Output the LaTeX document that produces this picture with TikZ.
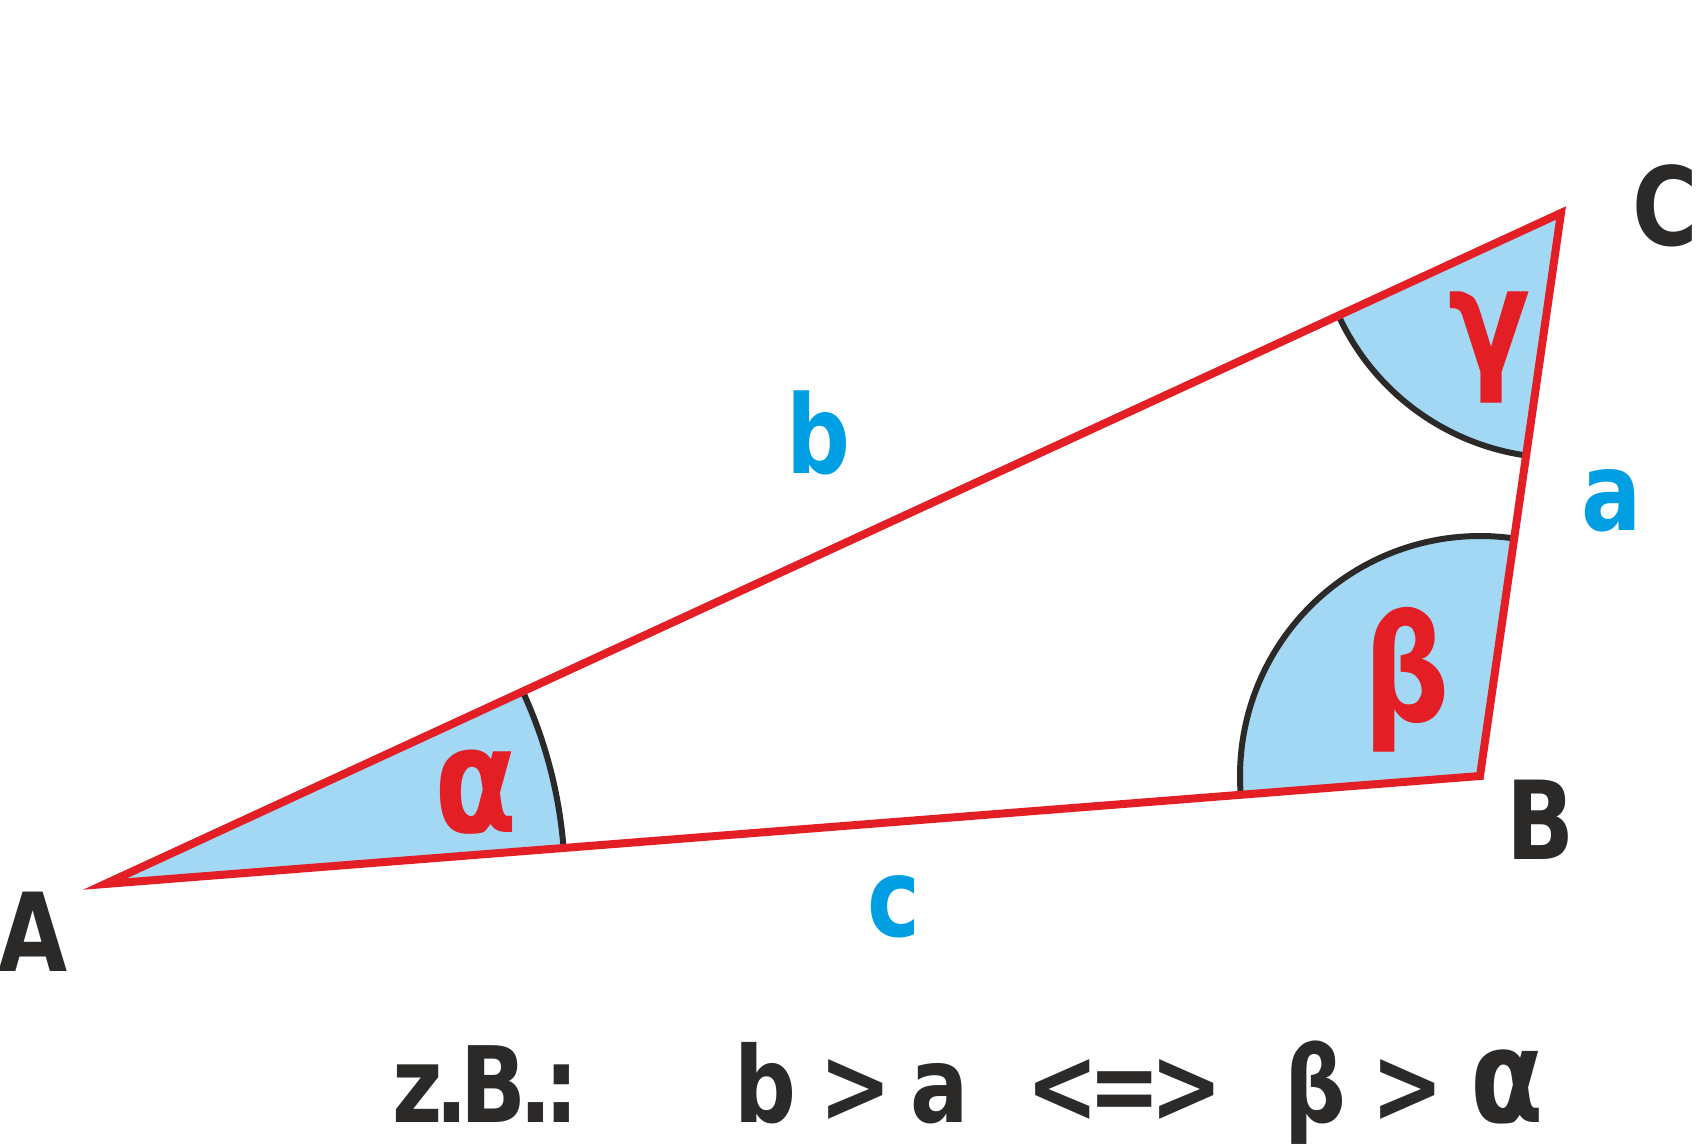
\documentclass[tikz,border=0pt]{standalone}
\usepackage{fontspec}
\setmainfont{DejaVu Sans}[FakeStretch=0.82]
\definecolor{trired}{HTML}{E31E24}
\definecolor{triblue}{HTML}{A3D8F5}
\definecolor{sideblue}{HTML}{009FE3}
\definecolor{dark}{HTML}{2B2A29}
\begin{document}
\begin{tikzpicture}[sector/.style={fill=triblue,draw=dark,line width=0.06cm},
    side/.style={draw=trired,line width=0.08cm,line join=miter},
    vertex/.style={text=dark,font=\bfseries\fontsize{31}{31}\selectfont},
    greek/.style={text=trired,font=\bfseries\fontsize{42}{42}\selectfont},
    sidelabel/.style={text=sideblue,font=\bfseries\fontsize{31}{31}\selectfont},
    formula/.style={text=dark,anchor=base,font=\bfseries\fontsize{30}{30}\selectfont}]
  \useasboundingbox (0,0) rectangle (16.96,11.48);
  \coordinate (A) at (1.05,2.64);
  \coordinate (B) at (14.80,3.72);
  \coordinate (C) at (15.61,9.35);
  \filldraw[sector] (A) -- ++(4.49:4.6) arc[start angle=4.49,end angle=24.74,radius=4.6] -- cycle;
  \filldraw[sector] (B) -- ++(81.81:2.4) arc[start angle=81.81,end angle=184.49,radius=2.4] -- cycle;
  \filldraw[sector] (C) -- ++(204.74:2.45) arc[start angle=204.74,end angle=261.81,radius=2.45] -- cycle;
  \draw[side] (A) -- (B) -- (C) -- cycle;
  \node[vertex] (lA) at (0.33,2.16) {A};
  \node[vertex] (lB) at (15.41,3.28) {B};
  \node[vertex] (lC) at (16.65,9.42) {C};
  \node[sidelabel] (la) at (16.12,6.47) {a};
  \node[sidelabel] (lb) at (8.18,7.15) {b};
  \node[sidelabel] (lc) at (8.94,2.41) {c};
  \node[greek] (alpha) at (4.76,3.56) {α};
  \node[greek] (beta) at (14.07,4.68) {β};
  \node[greek] (gamma) at (14.90,8.01) {γ};
  \node[formula] (zb) at (4.86,0.26) {z\kern-.07em.\kern-.07em B\kern-.07em.\kern-.07em:};
  \foreach \x/\t [count=\i] in {7.65/b, 8.56/>, 9.40/a, 11.25/{<\kern-.1em=\kern-.1em>}, 13.15/β, 14.08/>, 15.07/{\fontsize{37}{37}\selectfont α}}
    \node[formula] (f\i) at (\x,0.26) {\t};
\end{tikzpicture}
\end{document}
